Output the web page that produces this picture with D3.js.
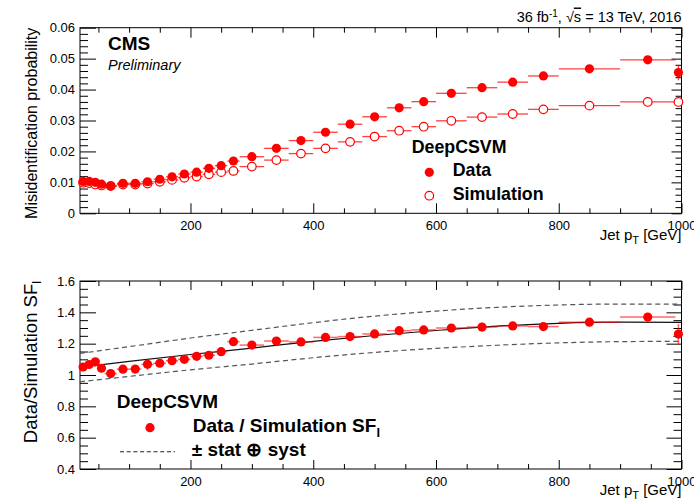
<!DOCTYPE html>
<html>
<head>
<meta charset="utf-8">
<script src="https://cdn.jsdelivr.net/npm/d3@7"></script>
<style>
  html, body { margin: 0; padding: 0; background: #fff; }
  svg { display: block; font-family: "Liberation Sans", Arial, Helvetica, sans-serif; }
</style>
</head>
<body>
<svg id="chart" width="694" height="504"></svg>
<script>
// Jet pT bins [GeV]
const ptLow  = [20, 30, 40, 50, 60, 80, 100, 120, 140, 160, 180, 200, 220, 240, 260, 280, 320, 360, 400, 440, 480, 520, 560, 600, 650, 700, 750, 800, 900, 990];
const ptHigh = [30, 40, 50, 60, 80, 100, 120, 140, 160, 180, 200, 220, 240, 260, 280, 320, 360, 400, 440, 480, 520, 560, 600, 650, 700, 750, 800, 900, 990, 1000];

// Light-jet misidentification probability, DeepCSV medium WP
const effData = [0.0103, 0.0103, 0.0100, 0.0094, 0.0089, 0.0097, 0.0097, 0.0102, 0.0110, 0.0118,
                 0.0127, 0.0133, 0.01455, 0.0154, 0.0169, 0.0183, 0.0210, 0.0235, 0.0262, 0.0288,
                 0.0312, 0.0341, 0.0361, 0.0388, 0.0406, 0.0424, 0.0444, 0.0467, 0.0496, 0.0455];
const effDataErr = [0.0002, 0.0002, 0.0002, 0.0002, 0.0002, 0.0002, 0.0002, 0.0003, 0.0002, 0.0002,
                    0.0002, 0.0002, 0.0002, 0.0002, 0.0002, 0.0002, 0.0002, 0.0002, 0.0002, 0.0002,
                    0.0002, 0.0002, 0.0002, 0.0002, 0.0002, 0.0002, 0.0002, 0.0003, 0.0003, 0.0025];
const effSim = [0.0099, 0.0098, 0.0093, 0.0090, 0.0088, 0.0093, 0.0093, 0.0096, 0.0102, 0.0108,
                0.0115, 0.0119, 0.0126, 0.0133, 0.0137, 0.0151, 0.0172, 0.0193, 0.0210, 0.0231,
                0.0248, 0.0267, 0.0280, 0.0299, 0.0311, 0.0321, 0.0336, 0.0348, 0.0360, 0.0360];

// Data / Simulation scale factor
const sfValue = [1.051, 1.067, 1.084, 1.043, 1.009, 1.037, 1.038, 1.068, 1.075, 1.091,
                 1.100, 1.119, 1.126, 1.149, 1.213, 1.191, 1.217, 1.211, 1.240, 1.245,
                 1.262, 1.283, 1.288, 1.300, 1.306, 1.313, 1.309, 1.337, 1.370, 1.261];
const sfErr = [0.012, 0.010, 0.010, 0.010, 0.010, 0.012, 0.012, 0.035, 0.012, 0.010,
               0.010, 0.010, 0.010, 0.010, 0.012, 0.010, 0.010, 0.010, 0.010, 0.010,
               0.010, 0.010, 0.010, 0.010, 0.010, 0.012, 0.012, 0.012, 0.015, 0.065];

// Fitted SF and its (stat + syst) envelope
const fitPt      = [20, 100, 200, 300, 400, 500, 600, 700, 800, 900, 1000];
const fitCentral = [1.049, 1.087, 1.131, 1.172, 1.215, 1.252, 1.284, 1.312, 1.330, 1.337, 1.336];
const fitUp      = [1.138, 1.181, 1.236, 1.285, 1.334, 1.376, 1.408, 1.432, 1.447, 1.453, 1.453];
const fitDown    = [0.957, 0.991, 1.033, 1.070, 1.110, 1.144, 1.170, 1.190, 1.205, 1.213, 1.215];

// Axis tick values
const xMajor = [200, 400, 600, 800, 1000];
const xMinor = d3.range(50, 1000, 50).filter(v => v % 200 !== 0);
const yTopMajor = [0, 0.01, 0.02, 0.03, 0.04, 0.05, 0.06];
const yTopMinor = d3.range(0, 31).map(i => i * 0.002).filter((v, i) => i % 5 !== 0);
const yBotMajor = [0.4, 0.6, 0.8, 1.0, 1.2, 1.4, 1.6];
const yBotMinor = d3.range(0, 25).map(i => 0.4 + i * 0.05).filter((v, i) => i % 4 !== 0);

const svg = d3.select("#chart");
svg.append("rect").attr("width", 694).attr("height", 504).attr("fill", "#fff");

const FX0 = 80, FX1 = 681.5;
const padTop = { y0: 27.7, y1: 213.3 };
const padBot = { y0: 281, y1: 469 };

const x = d3.scaleLinear().domain([20, 1000]).range([FX0, FX1]);
const yTop = d3.scaleLinear().domain([0, 0.06]).range([padTop.y1, padTop.y0]);
const yBot = d3.scaleLinear().domain([0.4, 1.6]).range([padBot.y1, padBot.y0]);

const bins = ptLow.map((lo, i) => ({
  lo, hi: ptHigh[i], c: (lo + ptHigh[i]) / 2,
  d: effData[i], de: effDataErr[i], s: effSim[i],
  sf: sfValue[i], sfe: sfErr[i]
}));

function drawAxes(g, y, p, yMajor, yMinor, fmt, opt) {
  const ax = (gen, tf) => {
    const a = g.append("g").attr("transform", tf).call(gen);
    a.select(".domain").remove();
    a.selectAll("line").attr("stroke", "#000").attr("stroke-width", 1);
    a.selectAll("text").attr("font-family", "Liberation Sans, Arial, sans-serif").attr("font-size", 13).attr("fill", "#000");
    return a;
  };
  // bottom x
  ax(d3.axisBottom(x).tickValues(xMajor).tickSize(-opt.xMaj).tickPadding(opt.xPad).tickFormat(d3.format("d")), `translate(0,${p.y1})`);
  ax(d3.axisBottom(x).tickValues(xMinor).tickSize(-opt.xMin).tickFormat(""), `translate(0,${p.y1})`);
  // top x
  ax(d3.axisTop(x).tickValues(xMajor).tickSize(-opt.xMaj).tickFormat(""), `translate(0,${p.y0})`);
  ax(d3.axisTop(x).tickValues(xMinor).tickSize(-opt.xMin).tickFormat(""), `translate(0,${p.y0})`);
  // left y
  ax(d3.axisLeft(y).tickValues(yMajor).tickSize(-opt.yMaj).tickPadding(5).tickFormat(fmt), `translate(${FX0},0)`);
  ax(d3.axisLeft(y).tickValues(yMinor).tickSize(-opt.yMin).tickFormat(""), `translate(${FX0},0)`);
  // right y
  ax(d3.axisRight(y).tickValues(yMajor).tickSize(-opt.rMaj).tickFormat(""), `translate(${FX1},0)`);
  ax(d3.axisRight(y).tickValues(yMinor).tickSize(-opt.rMin).tickFormat(""), `translate(${FX1},0)`);
  g.append("rect").attr("x", FX0).attr("y", p.y0).attr("width", FX1 - FX0).attr("height", p.y1 - p.y0)
    .attr("fill", "none").attr("stroke", "#000").attr("stroke-width", 1);
}

const RED = "#ff0000";
const BAR = "rgba(255,0,0,0.75)";

// ---------- upper panel: misidentification probability ----------
const gTop = svg.append("g");
drawAxes(gTop, yTop, padTop, yTopMajor, yTopMinor, d => d === 0 ? "0" : d.toFixed(2),
  { xMaj: 10, xMin: 5, xPad: 7, yMaj: 16, yMin: 8, rMaj: 10, rMin: 6 });

// simulation (open markers)
const gSim = gTop.append("g");
gSim.selectAll("line.h").data(bins).join("line")
  .attr("x1", d => x(d.lo)).attr("x2", d => x(d.hi))
  .attr("y1", d => yTop(d.s)).attr("y2", d => yTop(d.s))
  .attr("stroke", BAR).attr("stroke-width", 1.3);
gSim.selectAll("circle").data(bins).join("circle")
  .attr("cx", d => x(d.c)).attr("cy", d => yTop(d.s)).attr("r", 4.3)
  .attr("fill", "#fff").attr("stroke", RED).attr("stroke-width", 1.2);

// data (filled markers)
const gDat = gTop.append("g");
gDat.selectAll("line.h").data(bins).join("line")
  .attr("x1", d => x(d.lo)).attr("x2", d => x(d.hi))
  .attr("y1", d => yTop(d.d)).attr("y2", d => yTop(d.d))
  .attr("stroke", BAR).attr("stroke-width", 1.3);
gDat.selectAll("line.v").data(bins).join("line")
  .attr("x1", d => x(d.c)).attr("x2", d => x(d.c))
  .attr("y1", d => yTop(d.d - d.de)).attr("y2", d => yTop(d.d + d.de))
  .attr("stroke", BAR).attr("stroke-width", 1.3);
gDat.selectAll("circle").data(bins).join("circle")
  .attr("cx", d => x(d.c)).attr("cy", d => yTop(d.d)).attr("r", 4.6)
  .attr("fill", RED);

// labels
svg.append("text").attr("x", 108).attr("y", 50).attr("font-size", 19).attr("font-weight", "bold").text("CMS");
svg.append("text").attr("x", 108).attr("y", 69.5).attr("font-size", 14.5).attr("font-style", "italic").text("Preliminary");

const lumi = svg.append("text").attr("x", FX1).attr("y", 21.5).attr("font-size", 14.5).attr("text-anchor", "end");
lumi.append("tspan").text("36 fb");
lumi.append("tspan").attr("dy", -5).attr("font-size", 10).text("-1");
lumi.append("tspan").attr("dy", 5).text(", √");
lumi.append("tspan").attr("text-decoration", "overline").text("s");
lumi.append("tspan").text(" = 13 TeV, 2016");

svg.append("text").attr("transform", `translate(37,${padTop.y0}) rotate(-90)`)
  .attr("text-anchor", "end").attr("font-size", 16).text("Misidentification probability");

function xTitle(yBase) {
  const t = svg.append("text").attr("x", FX1).attr("y", yBase).attr("font-size", 15).attr("text-anchor", "end");
  t.append("tspan").text("Jet p");
  t.append("tspan").attr("dy", 4).attr("font-size", 11).text("T");
  t.append("tspan").attr("dy", -4).text(" [GeV]");
}
xTitle(240);
xTitle(495);

// top legend
svg.append("text").attr("x", 411.7).attr("y", 152.7).attr("font-size", 17.8).attr("font-weight", "bold").text("DeepCSVM");
svg.append("circle").attr("cx", 429.3).attr("cy", 172.3).attr("r", 4.6).attr("fill", RED);
svg.append("text").attr("x", 452.7).attr("y", 176).attr("font-size", 17.8).attr("font-weight", "bold").text("Data");
svg.append("circle").attr("cx", 429.3).attr("cy", 195.7).attr("r", 4.3).attr("fill", "#fff").attr("stroke", RED).attr("stroke-width", 1.2);
svg.append("text").attr("x", 452.7).attr("y", 199.5).attr("font-size", 17.8).attr("font-weight", "bold").text("Simulation");

// ---------- lower panel: scale factor ----------
const gBot = svg.append("g");
drawAxes(gBot, yBot, padBot, yBotMajor, yBotMinor, d => String(+d.toFixed(1)),
  { xMaj: 9, xMin: 5, xPad: 8, yMaj: 16, yMin: 8, rMaj: 15, rMin: 8 });

const fitRows = fitPt.map((p, i) => ({ p, c: fitCentral[i], u: fitUp[i], l: fitDown[i] }));
const band = key => d3.line().x(d => x(d.p)).y(d => yBot(d[key])).curve(d3.curveMonotoneX);
gBot.append("path").datum(fitRows).attr("d", band("u"))
  .attr("fill", "none").attr("stroke", "#555").attr("stroke-width", 1.2).attr("stroke-dasharray", "5,3.5");
gBot.append("path").datum(fitRows).attr("d", band("l"))
  .attr("fill", "none").attr("stroke", "#555").attr("stroke-width", 1.2).attr("stroke-dasharray", "5,3.5");
gBot.append("path").datum(fitRows).attr("d", band("c"))
  .attr("fill", "none").attr("stroke", "#111").attr("stroke-width", 1.2);

const BAR2 = "rgba(255,0,0,0.6)";
gBot.selectAll("line.h").data(bins).join("line")
  .attr("x1", d => x(d.lo)).attr("x2", d => x(d.hi))
  .attr("y1", d => yBot(d.sf)).attr("y2", d => yBot(d.sf))
  .attr("stroke", BAR2).attr("stroke-width", 1.5);
gBot.selectAll("line.v").data(bins).join("line")
  .attr("x1", d => x(d.c)).attr("x2", d => x(d.c))
  .attr("y1", d => yBot(d.sf - d.sfe)).attr("y2", d => yBot(d.sf + d.sfe))
  .attr("stroke", BAR2).attr("stroke-width", 1.5);
gBot.selectAll("circle").data(bins).join("circle")
  .attr("cx", d => x(d.c)).attr("cy", d => yBot(d.sf)).attr("r", 4.6).attr("fill", RED);

svg.append("text").attr("transform", `translate(37,${padBot.y0}) rotate(-90)`)
  .attr("text-anchor", "end").attr("font-size", 18.5)
  .call(t => {
    t.append("tspan").text("Data/Simulation SF");
    t.append("tspan").attr("dy", 4).attr("font-size", 12.5).text("l");
  });

// bottom legend
svg.append("text").attr("x", 116.7).attr("y", 408.3).attr("font-size", 19).attr("font-weight", "bold").text("DeepCSVM");
svg.append("circle").attr("cx", 150).attr("cy", 427.7).attr("r", 4.6).attr("fill", RED);
svg.append("text").attr("x", 192.7).attr("y", 431.7).attr("font-size", 19).attr("font-weight", "bold")
  .call(t => {
    t.append("tspan").text("Data / Simulation SF");
    t.append("tspan").attr("dy", 5).attr("font-size", 13).text("l");
  });
svg.append("line").attr("x1", 120).attr("x2", 175).attr("y1", 451.7).attr("y2", 451.7)
  .attr("stroke", "#222").attr("stroke-width", 1.1).attr("stroke-dasharray", "4,2.7");
svg.append("text").attr("x", 191.7).attr("y", 455.5).attr("font-size", 19).attr("font-weight", "bold").text("± stat ⊕ syst");
</script>
</body>
</html>
